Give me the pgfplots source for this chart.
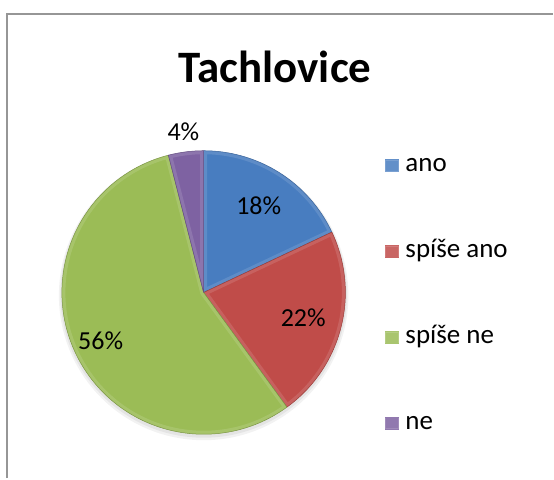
\documentclass[border=0pt]{standalone}
\usepackage{pgfplots}
\pgfplotsset{compat=1.18}
\usepackage{pgfplotstable}
\usepackage{fontspec}
\setmainfont{Carlito}

\definecolor{sAno}{RGB}{72,125,192}
\definecolor{sSpAno}{RGB}{192,76,73}
\definecolor{sSpNe}{RGB}{155,188,86}
\definecolor{sNe}{RGB}{126,98,162}
\definecolor{frameGray}{RGB}{150,150,150}

\pgfplotsset{
  legsq/.style={legend image code/.code={%
    \fill[##1] (0bp,-6.5bp) rectangle (15bp,6.5bp);
    \draw[white, opacity=0.15, line width=1.5bp] (0.75bp,-5.75bp) rectangle (14.25bp,5.75bp);}},
}

% answer shares in percent, in drawing order (clockwise from 12 o'clock)
\pgfplotstableread{
answer   share
ano      18
spiseano 22
spisene  56
ne       4
}\shares

\pgfplotstablegetelem{0}{share}\of\shares \let\vA\pgfplotsretval
\pgfplotstablegetelem{1}{share}\of\shares \let\vB\pgfplotsretval
\pgfplotstablegetelem{2}{share}\of\shares \let\vC\pgfplotsretval
\pgfplotstablegetelem{3}{share}\of\shares \let\vD\pgfplotsretval

% slice boundaries (degrees)
\pgfmathsetmacro{\aA}{90}
\pgfmathsetmacro{\aB}{\aA-3.6*\vA}
\pgfmathsetmacro{\aC}{\aB-3.6*\vB}
\pgfmathsetmacro{\aD}{\aC-3.6*\vC}
\pgfmathsetmacro{\aE}{\aD-3.6*\vD}
% slice mid angles for the labels
\pgfmathsetmacro{\mA}{(\aA+\aB)/2}
\pgfmathsetmacro{\mB}{(\aB+\aC)/2}
\pgfmathsetmacro{\mC}{(\aC+\aD)/2}
\pgfmathsetmacro{\mD}{(\aD+\aE)/2}

% one slice with a faint bevel rim
\newcommand{\slicepath}[2]{(axis cs:204,186) -- ++(#1:142bp)
    arc[start angle=#1, end angle=#2, radius=142bp] -- cycle}
\newcommand{\slice}[3]{%
  \fill[#1] \slicepath{#2}{#3};
  \begin{scope}
    \clip \slicepath{#2}{#3};
    \draw[white, opacity=0.12, line width=7bp, line join=round] \slicepath{#2}{#3};
  \end{scope}
  \draw[#1!80!black, line width=0.5bp, line join=round] \slicepath{#2}{#3};}

\begin{document}
\begin{tikzpicture}
\begin{axis}[
  x=1bp, y=1bp,
  xmin=0, xmax=554, ymin=0, ymax=479,
  hide axis, clip=false,
  legend cell align=left,
  legend style={
    at={(axis cs:382,327)}, anchor=north west,
    draw=none, fill=none,
    font=\fontsize{27bp}{31bp}\selectfont,
    row sep=62bp,
    nodes={inner sep=0pt, text height=18bp, text depth=6bp},
    /tikz/every odd column/.append style={column sep=6bp},
  },
]
\path (axis cs:0,0) rectangle (axis cs:554,479);

% chart frame
\draw[frameGray, line width=2bp] (axis cs:7,0) -- (axis cs:7,465) -- (axis cs:554,465);

% soft shadow under the pie
\fill[black, opacity=0.05] (axis cs:204,183) circle[radius=145bp];
\fill[black, opacity=0.06] (axis cs:204,184) circle[radius=143.5bp];

% pie slices
\slice{sAno}{\aA}{\aB}
\slice{sSpAno}{\aB}{\aC}
\slice{sSpNe}{\aC}{\aD}
\slice{sNe}{\aD}{\aE}

% data labels
\path (axis cs:204,186) ++(\mA:103bp) node[font=\fontsize{26bp}{31bp}\selectfont] {\vA\%};
\path (axis cs:204,186) ++(\mB:103bp) node[font=\fontsize{26bp}{31bp}\selectfont] {\vB\%};
\path (axis cs:204,186) ++(\mC:114bp) node[font=\fontsize{26bp}{31bp}\selectfont] {\vC\%};
\path (axis cs:204,186) ++(\mD:162bp) node[font=\fontsize{26bp}{31bp}\selectfont] {\vD\%};

% title
\node[anchor=base, font=\bfseries\fontsize{45bp}{50bp}\selectfont] at (axis cs:275.5,396) {Tachlovice};

% legend
\addlegendimage{legsq, fill=sAno, draw=none}
\addlegendentry{ano}
\addlegendimage{legsq, fill=sSpAno, draw=none}
\addlegendentry{spíše ano}
\addlegendimage{legsq, fill=sSpNe, draw=none}
\addlegendentry{spíše ne}
\addlegendimage{legsq, fill=sNe, draw=none}
\addlegendentry{ne}
\end{axis}
\end{tikzpicture}
\end{document}
